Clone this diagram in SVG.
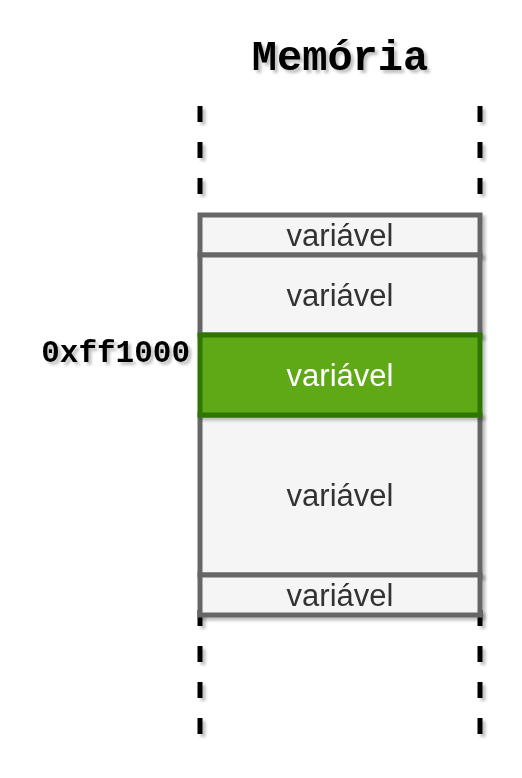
<svg xmlns="http://www.w3.org/2000/svg" width="522" height="778" viewBox="0 0 522 778">
<defs>
<filter id="sh" x="-10%" y="-10%" width="130%" height="130%">
<feGaussianBlur in="SourceAlpha" stdDeviation="1.5"/>
<feOffset dx="3" dy="3" result="b"/>
<feComponentTransfer><feFuncA type="linear" slope="0.25"/></feComponentTransfer>
<feMerge><feMergeNode/><feMergeNode in="SourceGraphic"/></feMerge>
</filter>
<style>
.cell{fill:#f5f5f5;stroke:#666666;stroke-width:5}
.sel{fill:#60a917;stroke:#2d7600;stroke-width:5}
.lbl{font-family:"Liberation Sans",Arial,sans-serif;font-size:31px;fill:#333333;text-anchor:middle}
.wl{fill:#ffffff}
.mono{font-family:"Liberation Mono","Courier New",monospace;font-weight:bold;fill:#000000}
.dash{stroke:#000000;stroke-width:5;stroke-dasharray:16 20;fill:none}
</style>
</defs>
<rect width="522" height="778" fill="#ffffff"/>
<g id="connectors" filter="url(#sh)">
<line class="dash" x1="200" y1="106" x2="200" y2="213"/>
<line class="dash" x1="480" y1="106" x2="480" y2="213"/>
<line class="dash" x1="200" y1="610" x2="200" y2="735"/>
<line class="dash" x1="480" y1="610" x2="480" y2="735"/>
</g>
<g id="title" filter="url(#sh)">
<text class="mono" x="340" y="70" font-size="42" text-anchor="middle">Memória</text>
</g>
<g id="cell1" filter="url(#sh)">
<rect class="cell" x="200" y="215" width="280" height="40"/>
<text class="lbl" x="340" y="246">variável</text>
</g>
<g id="cell2" filter="url(#sh)">
<rect class="cell" x="200" y="255" width="280" height="80"/>
<text class="lbl" x="340" y="306">variável</text>
</g>
<g id="cell4" filter="url(#sh)">
<rect class="cell" x="200" y="415" width="280" height="160"/>
<text class="lbl" x="340" y="506">variável</text>
</g>
<g id="cell5" filter="url(#sh)">
<rect class="cell" x="200" y="575" width="280" height="40"/>
<text class="lbl" x="340" y="606">variável</text>
</g>
<g id="cell3" filter="url(#sh)">
<rect class="sel" x="200" y="335" width="280" height="80"/>
<text class="lbl wl" x="340" y="386">variável</text>
</g>
<g id="address" filter="url(#sh)">
<text class="mono" x="190" y="362" font-size="31" text-anchor="end">0xff1000</text>
</g>
</svg>
